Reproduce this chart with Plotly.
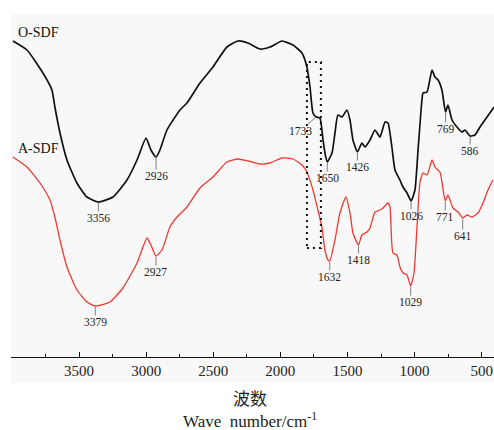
import numpy as np
import plotly.graph_objects as go

# O-SDF spectrum (wavenumber cm-1, transmittance a.u.)
wn_o = [3993, 3888, 3769, 3702, 3680, 3642, 3590, 3516, 3441, 3356, 3247, 3143, 3068, 3001,
        2964, 2926, 2897, 2845, 2748, 2696, 2599, 2502, 2398, 2316, 2241, 2152, 2077, 1988,
        1906, 1839, 1802, 1779, 1757, 1733, 1705, 1682, 1665, 1650, 1615, 1593, 1571, 1541,
        1504, 1481, 1459, 1426, 1392, 1369, 1332, 1295, 1258, 1220, 1198, 1168, 1146, 1109,
        1086, 1056, 1026, 997, 974, 945, 937, 907, 870, 848, 825, 796, 769, 751, 721, 684,
        647, 624, 586, 550, 512, 460, 423, 408]
t_o = [342, 333, 310, 293, 276, 250, 223, 200, 186, 181, 186, 203, 223, 245,
       233, 226, 233, 253, 273, 280, 300, 316, 336, 342, 340, 334, 336, 342,
       338, 330, 316, 296, 270, 266, 265, 243, 228, 221, 230, 250, 268, 266,
       273, 263, 243, 231, 240, 236, 243, 253, 246, 261, 260, 235, 213, 203,
       196, 190, 182, 193, 233, 283, 290, 291, 313, 306, 303, 293, 271, 278, 263, 256,
       251, 253, 247, 248, 256, 266, 273, 276]

# A-SDF spectrum
wn_a = [3993, 3888, 3791, 3717, 3680, 3642, 3590, 3516, 3441, 3379, 3270, 3173, 3068, 2994,
        2964, 2927, 2882, 2823, 2770, 2696, 2599, 2502, 2398, 2316, 2241, 2152, 2077, 1988,
        1906, 1839, 1802, 1757, 1720, 1690, 1668, 1645, 1632, 1593, 1556, 1511, 1481, 1459,
        1418, 1392, 1355, 1332, 1295, 1258, 1235, 1198, 1183, 1161, 1131, 1109, 1086, 1056,
        1029, 1004, 982, 960, 937, 907, 870, 848, 811, 771, 751, 714, 676, 641, 609, 572,
        527, 490, 453, 416]
t_a = [226, 216, 200, 183, 166, 143, 116, 93, 81, 77, 81, 95, 120, 145,
       138, 127, 133, 156, 166, 176, 195, 206, 221, 224, 222, 219, 220, 225,
       224, 218, 211, 193, 173, 156, 133, 123, 122, 143, 170, 186, 170, 150,
       138, 148, 151, 155, 171, 173, 175, 180, 176, 130, 128, 116, 110, 108,
       97, 110, 156, 200, 210, 208, 223, 216, 211, 182, 188, 175, 171, 165, 168, 166,
       170, 180, 193, 203]

peaks_o = [3356, 2926, 1733, 1650, 1426, 1026, 769, 586]
peaks_a = [3379, 2927, 1632, 1418, 1029, 771, 641]
peak_box = [1802, 1698]
x_ticks = [3500, 3000, 2500, 2000, 1500, 1000, 500]
minor_ticks = [3750, 3250, 2750, 2250, 1750, 1250, 750]

# label offsets (pixels)
off_o = {3356: (0, 16), 2926: (0, 19), 1733: (-16, 14), 1650: (0, 16), 1426: (0, 15),
         1026: (0, 15), 769: (0, 17), 586: (0, 15)}
off_a = {3379: (0, 16), 2927: (0, 16), 1632: (0, 16), 1418: (0, 15), 1029: (0, 16),
         771: (0, 16), 641: (0, 18)}

W, H = 494, 430
ML, MT, MB = 11, 14, 47
PH = H - MT - MB   # 369
PW = W - ML        # 483

def py(ypx):  # page y pixel -> paper fraction
    return (383 - ypx) / PH

RED = "#ee3a32"
fig = go.Figure()
fig.add_trace(go.Scatter(x=wn_o, y=t_o, mode="lines", line=dict(color="#111111", width=1.7, shape="spline", smoothing=0.5),
                         name="O-SDF", showlegend=False, hoverinfo="skip"))
fig.add_trace(go.Scatter(x=wn_a, y=t_a, mode="lines", line=dict(color=RED, width=1.3, shape="spline", smoothing=0.5),
                         name="A-SDF", showlegend=False, hoverinfo="skip"))

serif = "Liberation Serif, Times New Roman, serif"
ann = []
def add_peaks(peaks, wn, t, offs):
    xs = np.array(wn[::-1], float)
    ys = np.array(t[::-1], float)
    for p in peaks:
        yv = float(np.interp(p, xs, ys))
        ax, ay = offs[p]
        ann.append(dict(x=p, y=yv, xref="x", yref="y", text=str(p), showarrow=True,
                        arrowhead=0, arrowwidth=1, arrowcolor="#808080", ax=ax, ay=ay,
                        standoff=1, font=dict(family=serif, size=11.5, color="#222"),
                        borderpad=0))
add_peaks(peaks_o, wn_o, t_o, off_o)
add_peaks(peaks_a, wn_a, t_a, off_a)

ann.append(dict(x=(16 - ML) / PW, y=py(32), xref="paper", yref="paper", text="O-SDF", showarrow=False,
                xanchor="left", yanchor="middle", font=dict(family=serif, size=14, color="#111")))
ann.append(dict(x=(16 - ML) / PW, y=py(148), xref="paper", yref="paper", text="A-SDF", showarrow=False,
                xanchor="left", yanchor="middle", font=dict(family=serif, size=14, color="#111")))
ann.append(dict(x=(250 - ML) / PW, y=py(397), xref="paper", yref="paper", text="波数", showarrow=False,
                xanchor="center", yanchor="middle", font=dict(family="Noto Sans CJK SC", size=17, color="#222")))
ann.append(dict(x=(250 - ML) / PW, y=py(420), xref="paper", yref="paper",
                text="Wave  number/cm<sup>-1</sup>", showarrow=False,
                xanchor="center", yanchor="middle", font=dict(family=serif, size=17, color="#222")))

fig.add_shape(type="rect", xref="x", yref="y", x0=peak_box[0], x1=peak_box[1], y0=135, y1=321,
              line=dict(color="#111", width=2, dash="2px,4px"), layer="above")

fig.update_layout(
    width=W, height=H,
    margin=dict(l=ML, r=0, t=MT, b=MB),
    paper_bgcolor="white", plot_bgcolor="#f8f8f8",
    annotations=ann,
    xaxis=dict(range=[4007, 408], tickvals=x_ticks, ticks="inside", ticklen=5, tickwidth=1.2,
               tickcolor="#111", showline=True, linecolor="#111", linewidth=1.3, showgrid=False,
               zeroline=False, anchor="free", position=py(357),
               tickfont=dict(family=serif, size=15, color="#222"),
               minor=dict(tickvals=minor_ticks, ticks="inside",
                          ticklen=2.5, tickcolor="#111", showgrid=False)),
    yaxis=dict(range=[0, PH], visible=False, showgrid=False, zeroline=False),
)
fig.write_html("out.html", config={"displayModeBar": False},
               post_script="document.body.style.margin='0';document.body.style.overflow='hidden';")
